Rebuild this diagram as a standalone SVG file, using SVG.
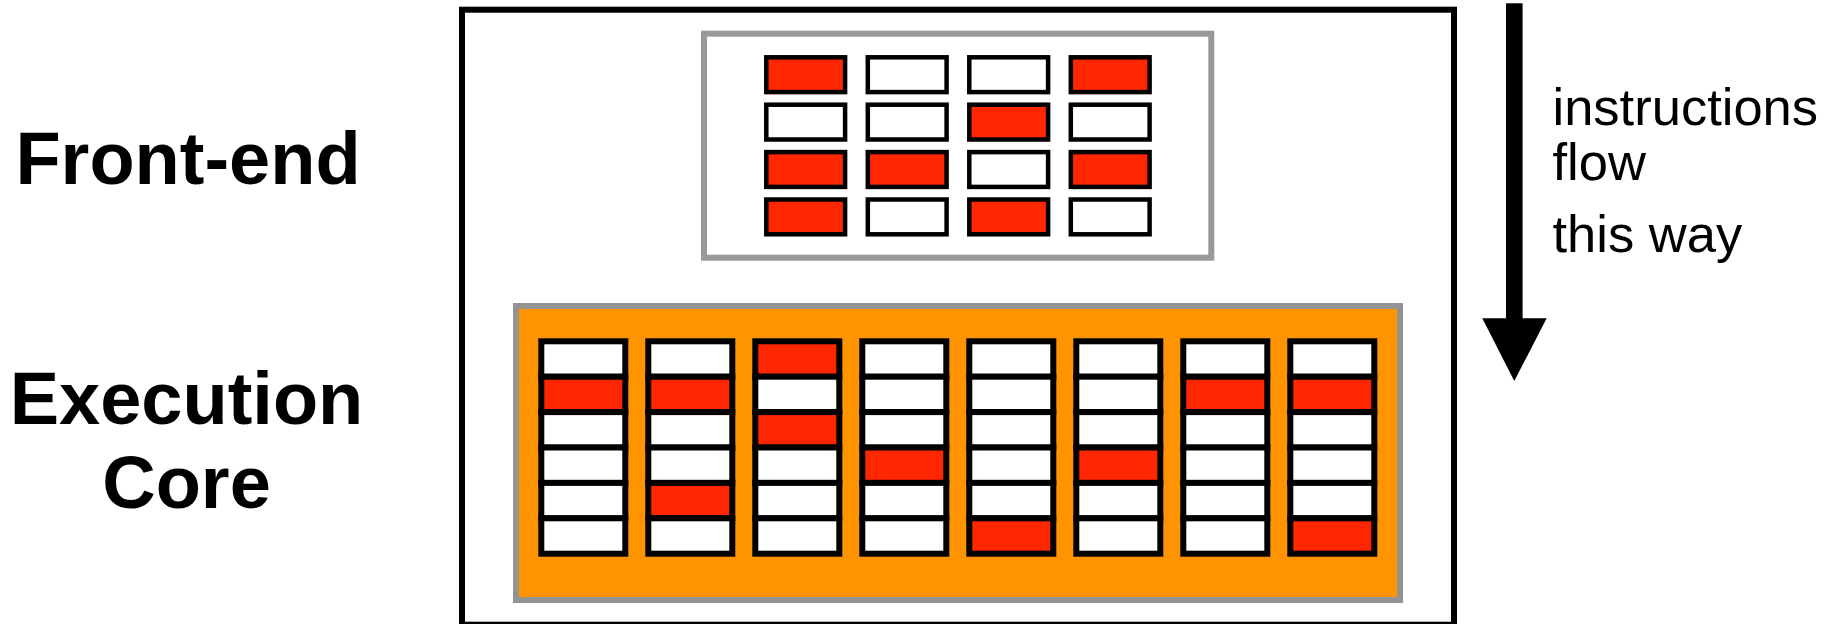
<svg xmlns="http://www.w3.org/2000/svg" width="1831" height="624" viewBox="0 0 1831 624">
<defs>
<style>
.lbl{font-family:"Liberation Sans",Arial,sans-serif;font-weight:bold;font-size:74px;fill:#000;text-anchor:middle}
.note{font-family:"Liberation Sans",Arial,sans-serif;font-size:52.5px;fill:#000}
.fe{stroke:#000;stroke-width:4.5}
.ec{stroke:#000;stroke-width:6}
.w{fill:#fff}
.r{fill:#ff2600}
</style>
</defs>
<rect width="1831" height="624" fill="#fff"/>
<g id="labels">
<text class="lbl" x="188" y="183.5">Front-end</text>
<text class="lbl" x="186.5" y="423.5">Execution</text>
<text class="lbl" x="186.5" y="508">Core</text>
</g>
<g id="chip">
<rect x="462" y="9.7" width="992" height="615" fill="#fff" stroke="#000" stroke-width="6"/>
</g>
<g id="front-end">
<rect x="704" y="33.7" width="507.3" height="224" fill="#fff" stroke="#999" stroke-width="6"/>
<g class="fe">
<rect class="r" x="766.3" y="57.3" width="78.8" height="34.8"/>
<rect class="w" x="867.8" y="57.3" width="78.8" height="34.8"/>
<rect class="w" x="969.3" y="57.3" width="78.8" height="34.8"/>
<rect class="r" x="1070.8" y="57.3" width="78.8" height="34.8"/>
<rect class="w" x="766.3" y="104.7" width="78.8" height="34.8"/>
<rect class="w" x="867.8" y="104.7" width="78.8" height="34.8"/>
<rect class="r" x="969.3" y="104.7" width="78.8" height="34.8"/>
<rect class="w" x="1070.8" y="104.7" width="78.8" height="34.8"/>
<rect class="r" x="766.3" y="152.1" width="78.8" height="34.8"/>
<rect class="r" x="867.8" y="152.1" width="78.8" height="34.8"/>
<rect class="w" x="969.3" y="152.1" width="78.8" height="34.8"/>
<rect class="r" x="1070.8" y="152.1" width="78.8" height="34.8"/>
<rect class="r" x="766.3" y="199.5" width="78.8" height="34.8"/>
<rect class="w" x="867.8" y="199.5" width="78.8" height="34.8"/>
<rect class="r" x="969.3" y="199.5" width="78.8" height="34.8"/>
<rect class="w" x="1070.8" y="199.5" width="78.8" height="34.8"/>
</g>
</g>
<g id="execution-core">
<rect x="516" y="306" width="884" height="294" fill="#ff9400" stroke="#939393" stroke-width="6"/>
<g class="ec">
<!-- column 1 -->
<rect class="w" x="541.3" y="341.3" width="84" height="35.4"/>
<rect class="r" x="541.3" y="376.7" width="84" height="35.4"/>
<rect class="w" x="541.3" y="412.1" width="84" height="35.4"/>
<rect class="w" x="541.3" y="447.5" width="84" height="35.4"/>
<rect class="w" x="541.3" y="482.9" width="84" height="35.4"/>
<rect class="w" x="541.3" y="518.3" width="84" height="35.4"/>
<!-- column 2 -->
<rect class="w" x="648.3" y="341.3" width="84" height="35.4"/>
<rect class="r" x="648.3" y="376.7" width="84" height="35.4"/>
<rect class="w" x="648.3" y="412.1" width="84" height="35.4"/>
<rect class="w" x="648.3" y="447.5" width="84" height="35.4"/>
<rect class="r" x="648.3" y="482.9" width="84" height="35.4"/>
<rect class="w" x="648.3" y="518.3" width="84" height="35.4"/>
<!-- column 3 -->
<rect class="r" x="755.3" y="341.3" width="84" height="35.4"/>
<rect class="w" x="755.3" y="376.7" width="84" height="35.4"/>
<rect class="r" x="755.3" y="412.1" width="84" height="35.4"/>
<rect class="w" x="755.3" y="447.5" width="84" height="35.4"/>
<rect class="w" x="755.3" y="482.9" width="84" height="35.4"/>
<rect class="w" x="755.3" y="518.3" width="84" height="35.4"/>
<!-- column 4 -->
<rect class="w" x="862.3" y="341.3" width="84" height="35.4"/>
<rect class="w" x="862.3" y="376.7" width="84" height="35.4"/>
<rect class="w" x="862.3" y="412.1" width="84" height="35.4"/>
<rect class="r" x="862.3" y="447.5" width="84" height="35.4"/>
<rect class="w" x="862.3" y="482.9" width="84" height="35.4"/>
<rect class="w" x="862.3" y="518.3" width="84" height="35.4"/>
<!-- column 5 -->
<rect class="w" x="969.3" y="341.3" width="84" height="35.4"/>
<rect class="w" x="969.3" y="376.7" width="84" height="35.4"/>
<rect class="w" x="969.3" y="412.1" width="84" height="35.4"/>
<rect class="w" x="969.3" y="447.5" width="84" height="35.4"/>
<rect class="w" x="969.3" y="482.9" width="84" height="35.4"/>
<rect class="r" x="969.3" y="518.3" width="84" height="35.4"/>
<!-- column 6 -->
<rect class="w" x="1076.3" y="341.3" width="84" height="35.4"/>
<rect class="w" x="1076.3" y="376.7" width="84" height="35.4"/>
<rect class="w" x="1076.3" y="412.1" width="84" height="35.4"/>
<rect class="r" x="1076.3" y="447.5" width="84" height="35.4"/>
<rect class="w" x="1076.3" y="482.9" width="84" height="35.4"/>
<rect class="w" x="1076.3" y="518.3" width="84" height="35.4"/>
<!-- column 7 -->
<rect class="w" x="1183.3" y="341.3" width="84" height="35.4"/>
<rect class="r" x="1183.3" y="376.7" width="84" height="35.4"/>
<rect class="w" x="1183.3" y="412.1" width="84" height="35.4"/>
<rect class="w" x="1183.3" y="447.5" width="84" height="35.4"/>
<rect class="w" x="1183.3" y="482.9" width="84" height="35.4"/>
<rect class="w" x="1183.3" y="518.3" width="84" height="35.4"/>
<!-- column 8 -->
<rect class="w" x="1290.3" y="341.3" width="84" height="35.4"/>
<rect class="r" x="1290.3" y="376.7" width="84" height="35.4"/>
<rect class="w" x="1290.3" y="412.1" width="84" height="35.4"/>
<rect class="w" x="1290.3" y="447.5" width="84" height="35.4"/>
<rect class="w" x="1290.3" y="482.9" width="84" height="35.4"/>
<rect class="r" x="1290.3" y="518.3" width="84" height="35.4"/>
</g>
</g>
<g id="connectors">
<rect x="1506" y="3.3" width="16.6" height="316" fill="#000"/>
<polygon points="1482.3,318.3 1546.7,318.3 1514.3,381" fill="#000"/>
</g>
<g id="flow-note">
<text class="note" x="1552.5" y="125">instructions</text>
<text class="note" x="1552.5" y="180">flow</text>
<text class="note" x="1552.5" y="251.7">this way</text>
</g>
</svg>
